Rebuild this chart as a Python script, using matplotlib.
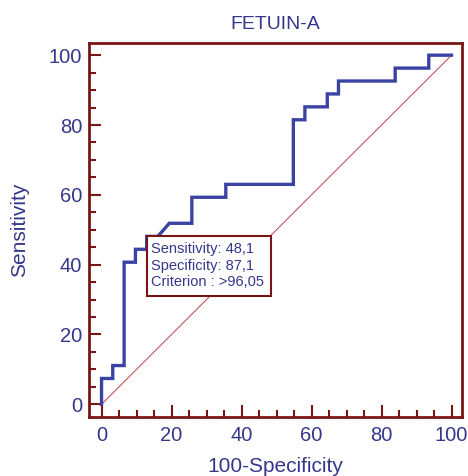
import numpy as np
import matplotlib
matplotlib.use("Agg")
import matplotlib.pyplot as plt
from matplotlib.patches import Rectangle
from matplotlib.ticker import MultipleLocator

# ROC steps (27 positives, 31 negatives)
fpr = [0, 0, 3.2, 3.2, 6.45, 6.45, 9.68, 9.68, 12.9, 12.9, 16.1, 19.35,
       25.8, 25.8, 35.5, 35.5, 54.8, 54.8, 58.1, 58.1, 64.5, 64.5,
       67.7, 67.7, 83.9, 83.9, 93.5, 93.5, 100]
tpr = [0, 7.4, 7.4, 11.1, 11.1, 40.7, 40.7, 44.4, 44.4, 48.1, 48.1, 51.85,
       51.85, 59.3, 59.3, 63.0, 63.0, 81.5, 81.5, 85.2, 85.2, 88.9,
       88.9, 92.6, 92.6, 96.3, 96.3, 100, 100]

sens = 48.1
spec = 87.1
criterion = ">96,05"

title = "FETUIN-A"
xlab = "100-Specificity"
ylab = "Sensitivity"

navy = "#35378a"
curve = "#3a43a4"
frame = "#7a1515"
diag = "#c0404a"

plt.rcParams["font.family"] = ["Liberation Sans", "DejaVu Sans"]

fig = plt.figure(figsize=(4.68, 4.76), dpi=100)
ax = fig.add_axes([0.1908, 0.1246, 0.7957, 0.7844])

ax.plot([0, 100], [0, 100], color=diag, lw=0.7, zorder=1)
ax.plot(fpr, tpr, color=curve, lw=2.4, solid_joinstyle="miter", zorder=3)

# criterion box
x0 = 100 - spec
ax.add_patch(Rectangle((x0 + 0.1, sens - 17.2), 35.3, 17.2, facecolor="white",
                       edgecolor=frame, lw=1.5, zorder=4))
ax.text(x0 + 1.3, sens - 1.7,
        "Sensitivity: %s\nSpecificity: %s\nCriterion : %s" % (
            str(sens).replace(".", ","), str(spec).replace(".", ","), criterion),
        va="top", ha="left", fontsize=10.5, color=navy, linespacing=1.2, zorder=5)

ax.set_xlim(-3.5, 102.9)
ax.set_ylim(-3.55, 103.4)
ax.xaxis.set_major_locator(MultipleLocator(20))
ax.xaxis.set_minor_locator(MultipleLocator(5))
ax.yaxis.set_major_locator(MultipleLocator(20))
ax.yaxis.set_minor_locator(MultipleLocator(5))
ax.tick_params(which="both", direction="in", color=frame, width=1.5,
               labelcolor=navy, labelsize=14.5, top=False, right=False)
ax.tick_params(which="major", length=8.6)
ax.tick_params(which="minor", length=5)
ax.tick_params(axis="x", pad=7)
ax.tick_params(axis="y", pad=5)
for s in ax.spines.values():
    s.set_color(frame)
    s.set_linewidth(2)

ax.set_title(title, color=navy, fontsize=14, pad=10)
ax.set_xlabel(xlab, color=navy, fontsize=15, labelpad=8)
ax.set_ylabel(ylab, color=navy, fontsize=15, labelpad=14)

fig.savefig("out.png", dpi=100)
